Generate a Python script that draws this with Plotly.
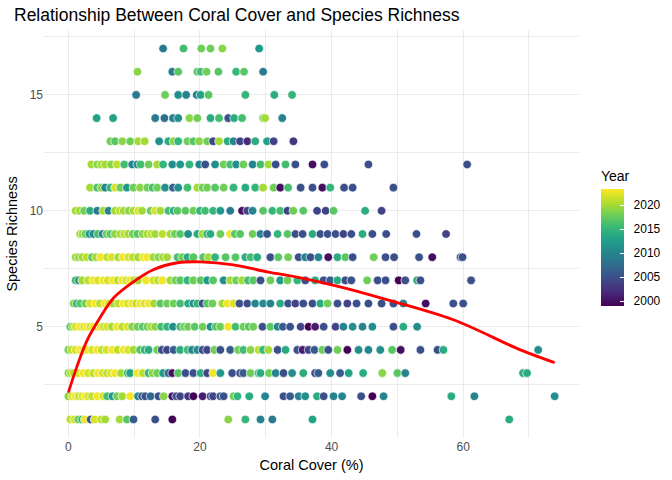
import plotly.graph_objects as go

# coral cover (%) and survey year for each richness level
y1_cover = [0.3, 0.9, 1.5, 2.1, 2.5, 3.4, 4.0, 5.0, 5.6, 7.8, 8.9, 9.9, 13.2, 15.8, 24.3, 26.9, 29.2, 31.0, 37.1, 67.0]
y1_year = [2021, 2022, 2018, 2015, 2023, 2005, 2022, 2021, 2020, 2020, 2017, 2006, 2005, 1999, 2019, 2015, 2010, 2009, 2013, 2014]

y2_cover = [0.0, 0.6, 1.1, 1.6, 2.1, 2.6, 3.0, 3.6, 4.4, 5.3, 5.9, 6.7, 7.4, 8.2, 9.4, 10.6, 11.2, 11.7, 12.5, 13.7,
            14.5, 15.8, 16.4, 17.0, 18.2, 19.0, 20.4, 21.6, 22.0, 23.1, 23.6, 25.1, 25.7, 27.5, 29.9, 32.7, 33.7, 35.0,
            36.0, 37.8, 38.8, 40.3, 41.6, 44.5, 46.2, 47.9, 58.2, 61.7, 73.9]
y2_year = [2019, 2022, 2023, 2021, 2022, 2023, 2022, 2021, 2023, 2022, 2016, 2012, 2018, 2020, 2023, 2010, 2006, 2005,
           2007, 2005, 2019, 2000, 2005, 2004, 2003, 1999, 2001, 2005, 2004, 2006, 2005, 2018, 2015, 2014, 2010, 2005,
           2006, 2010, 2011, 2014, 2005, 2010, 2010, 2005, 1999, 2010, 2014, 2010, 2011]

y3_cover = [0.0, 0.4, 0.8, 1.5, 2.3, 3.0, 3.8, 4.5, 5.2, 5.9, 6.5, 7.1, 8.0, 9.0, 9.4, 10.5, 11.3, 12.2, 12.8, 13.5,
            14.4, 15.2, 15.8, 16.7, 17.8, 19.0, 20.1, 21.1, 22.0, 23.1, 24.9, 26.1, 26.6, 27.7, 28.9, 29.2, 30.5, 31.5,
            32.7, 34.0, 35.7, 37.5, 38.0, 39.8, 41.3, 42.6, 44.8, 47.7, 50.0, 51.2, 69.1, 69.7]
y3_year = [2019, 2020, 2021, 2022, 2023, 2022, 2021, 2023, 2022, 2021, 2022, 2023, 2020, 2016, 2013, 2023, 2021, 2015,
           2019, 2018, 2012, 2008, 2000, 2017, 2005, 2005, 2014, 2004, 2023, 2012, 2005, 2005, 2006, 2018, 2015, 2014,
           2018, 2010, 2005, 2011, 2014, 2005, 2006, 2011, 2006, 2013, 2014, 2019, 2017, 2010, 2014, 2014]

y4_cover = [0.0, 0.5, 1.1, 1.8, 2.4, 2.9, 3.6, 4.4, 5.1, 5.8, 6.7, 7.5, 8.4, 9.1, 9.9, 10.9, 11.6, 12.2, 13.5, 14.2,
            15.0, 16.0, 17.0, 18.1, 18.8, 19.6, 20.4, 21.1, 22.2, 23.1, 24.6, 25.8, 26.6, 27.7, 28.9, 29.6, 30.4, 31.8,
            33.0, 34.8, 35.6, 36.5, 37.4, 38.6, 39.5, 40.9, 42.4, 44.1, 45.6, 47.4, 49.2, 50.5, 53.5, 56.1, 57.0, 71.4]
y4_year = [2018, 2021, 2022, 2023, 2022, 2023, 2022, 2023, 2021, 2022, 2023, 2021, 2023, 2022, 2020, 2017, 2015, 2014,
           2018, 2005, 2004, 2006, 2014, 2016, 2010, 2011, 2005, 2004, 2018, 2005, 2006, 2018, 2016, 2019, 2021, 2015,
           2020, 2005, 2014, 2005, 2001, 2004, 2006, 2018, 2005, 2018, 1999, 2011, 2010, 2011, 2017, 2000, 2005, 2005,
           2014, 2011]

y5_cover = [0.3, 0.7, 1.1, 1.8, 2.4, 2.9, 3.4, 3.8, 4.4, 4.9, 5.4, 5.9, 6.6, 7.4, 8.2, 9.0, 9.7, 10.5, 11.3, 12.0,
            12.6, 13.2, 14.1, 15.0, 15.9, 17.0, 17.6, 18.2, 19.2, 20.4, 21.6, 22.4, 23.1, 24.3, 25.4, 26.6, 27.4, 28.1,
            29.5, 30.7, 31.8, 32.6, 33.7, 35.3, 36.5, 37.5, 38.8, 40.6, 41.8, 43.2, 44.7, 46.2, 49.4, 50.9, 53.0]
y5_year = [2016, 2020, 2022, 2023, 2022, 2023, 2021, 2023, 2022, 2023, 2021, 2022, 2020, 2023, 2021, 2022, 2019, 2018,
           2017, 2018, 2020, 2019, 2016, 2015, 2011, 2016, 2018, 2018, 2017, 2018, 2011, 2017, 2018, 2023, 2016, 2018,
           2017, 2018, 2005, 2017, 2010, 2006, 2005, 2004, 1999, 2001, 2005, 2004, 2010, 2011, 2010, 2011, 2005, 2014,
           2011]

y6_cover = [0.8, 1.3, 1.8, 2.6, 3.3, 4.1, 4.8, 5.6, 6.2, 6.8, 7.6, 8.4, 9.0, 9.7, 10.3, 10.9, 11.6, 12.2, 13.0, 14.0,
            15.0, 16.0, 17.0, 18.2, 19.0, 19.6, 20.4, 21.1, 21.9, 23.4, 24.2, 25.1, 26.0, 27.2, 28.4, 29.6, 30.7, 32.2,
            33.4, 34.5, 35.7, 37.1, 38.3, 39.4, 40.9, 42.4, 43.8, 45.6, 47.6, 49.4, 50.9, 54.3, 58.5, 60.0]
y6_year = [2019, 2014, 2017, 2018, 2022, 2023, 2021, 2023, 2022, 2020, 2021, 2023, 2022, 2023, 2021, 2023, 2022, 2023,
           2020, 2017, 2018, 2018, 2016, 2014, 2011, 2015, 2005, 2017, 2018, 2020, 2023, 2022, 2005, 2005, 2010, 2011,
           2010, 2014, 2005, 2004, 2005, 2005, 2014, 2018, 2005, 2004, 2005, 2005, 2005, 2005, 2010, 2000, 2005, 2005]

y7_cover = [1.1, 1.6, 2.1, 3.0, 3.8, 4.5, 5.3, 6.0, 6.8, 7.5, 8.2, 8.8, 9.4, 10.0, 10.6, 11.8, 12.9, 13.6, 14.3, 15.5,
            16.3, 17.0, 18.1, 19.0, 20.1, 21.1, 22.0, 23.6, 24.6, 25.5, 26.4, 27.3, 28.1, 29.2, 30.7, 32.2, 33.3, 34.8,
            36.0, 37.5, 38.8, 39.8, 40.9, 42.1, 43.0, 45.4, 47.0, 48.2, 50.2, 51.2, 53.0, 53.5, 61.2]
y7_year = [2016, 2011, 2020, 2021, 2023, 2022, 2023, 2022, 2023, 2021, 2023, 2022, 2023, 2021, 2020, 2023, 2022, 2021,
           2023, 2020, 2018, 2017, 2015, 2018, 2017, 2012, 2017, 2011, 2020, 2018, 2020, 2016, 2017, 2005, 2018, 2012,
           2018, 2015, 2005, 2014, 2005, 2006, 2014, 2005, 2005, 2018, 2005, 2005, 1999, 2005, 2014, 2005, 2005]

y8_cover = [1.1, 1.6, 2.1, 2.8, 3.6, 4.2, 4.9, 5.9, 6.6, 7.6, 8.3, 9.1, 9.8, 10.6, 11.4, 12.0, 12.9, 13.7, 14.4, 15.0,
            16.6, 17.3, 18.1, 19.0, 20.5, 21.3, 22.3, 23.9, 25.4, 26.9, 27.7, 28.7, 30.7, 31.9, 33.4, 35.0, 36.0, 36.8,
            38.0, 39.5, 40.9, 42.1, 43.2, 46.4, 48.2, 49.5, 53.3, 55.3, 59.6, 59.9]
y8_year = [2020, 2019, 2020, 2021, 2017, 2020, 2023, 2021, 2022, 2020, 2023, 2022, 2021, 2020, 2023, 2023, 2020, 2019,
           2020, 2020, 2016, 2018, 2014, 2017, 2017, 2020, 2015, 2017, 2017, 2014, 2016, 2014, 2005, 2017, 2018, 2005,
           2010, 2005, 2010, 2000, 2014, 2017, 2005, 2018, 2005, 2005, 2005, 2000, 2005, 2005]

y9_cover = [1.8, 2.2, 2.6, 3.2, 3.8, 4.5, 5.2, 5.8, 6.4, 7.1, 7.9, 8.5, 9.1, 9.8, 10.5, 11.3, 12.0, 12.6, 13.2, 14.3,
            15.5, 16.2, 17.0, 18.2, 19.6, 20.4, 21.1, 21.6, 23.1, 24.6, 25.3, 26.1, 28.0, 29.2, 30.2, 31.8, 33.3, 34.5,
            35.6, 37.1, 38.3, 39.4, 40.6, 41.8, 43.0, 44.7, 46.2, 48.3, 52.9, 57.4]
y9_year = [2020, 2019, 2018, 2012, 2011, 2016, 2010, 2018, 2017, 2019, 2020, 2021, 2020, 2018, 2017, 2019, 2020, 2021,
           2020, 2021, 2020, 2018, 2017, 2011, 2014, 2020, 2015, 2014, 2018, 2023, 2017, 2017, 2018, 2010, 2005, 2015,
           2017, 2005, 2005, 2014, 2005, 2005, 2005, 2004, 2005, 2014, 2005, 2005, 2005, 2004]

y10_cover = [1.1, 1.7, 2.4, 3.3, 4.4, 5.3, 6.1, 7.1, 7.8, 8.4, 9.2, 9.9, 10.6, 11.2, 12.5, 13.2, 14.0, 15.2, 16.0, 16.6,
             17.8, 19.0, 20.0, 20.8, 22.0, 23.1, 24.6, 26.4, 27.2, 28.0, 29.6, 31.0, 32.2, 33.3, 34.2, 35.7, 37.8, 39.1,
             40.3, 45.1, 47.6]
y10_year = [2020, 2020, 2018, 2014, 2009, 2020, 2010, 2020, 2021, 2020, 2019, 2020, 2022, 2020, 2018, 2022, 2020, 2016,
            2014, 2017, 2017, 2018, 2015, 2016, 2015, 2012, 2009, 2000, 2004, 2010, 2017, 2015, 2016, 2004, 2018, 2017,
            2004, 2004, 2017, 2014, 2004]

y11_cover = [3.3, 4.4, 5.0, 5.6, 6.4, 7.1, 7.9, 8.9, 9.9, 10.9, 12.0, 12.8, 13.5, 14.7, 15.9, 16.7, 18.1, 19.6, 20.4,
             21.1, 22.3, 23.6, 25.1, 26.9, 28.4, 29.6, 31.2, 32.2, 33.4, 35.3, 37.1, 38.6, 39.8, 41.9, 43.2, 49.4]
y11_year = [2020, 2016, 2019, 2010, 2015, 2022, 2018, 2012, 2018, 2019, 2018, 2016, 2018, 2011, 2007, 2011, 2016, 2020,
            2018, 2018, 2017, 2018, 2015, 2014, 2015, 2020, 2018, 2000, 2016, 2005, 2005, 2000, 2015, 2005, 2005, 2005]

y12_cover = [3.5, 4.4, 5.0, 5.6, 6.5, 7.4, 8.5, 9.7, 10.5, 11.0, 12.2, 13.5, 14.4, 15.8, 17.0, 18.4, 19.9, 20.8, 22.3,
             23.6, 24.6, 25.5, 26.6, 28.0, 29.2, 30.4, 31.5, 33.0, 34.5, 37.1, 38.9, 45.6, 60.6]
y12_year = [2020, 2019, 2020, 2020, 2019, 2021, 2016, 2010, 2011, 2016, 2018, 2020, 2015, 2011, 2012, 2015, 2010, 2005,
            2011, 2018, 2016, 2011, 2018, 2010, 2016, 2020, 2005, 2016, 2005, 2000, 2005, 2005, 2005]

y13_cover = [6.4, 7.1, 8.2, 9.4, 10.6, 11.6, 13.8, 15.2, 16.0, 16.7, 18.1, 19.0, 19.9, 21.1, 22.0, 22.9, 24.2, 25.1,
             26.1, 27.2, 28.4, 30.2, 31.2, 34.2]
y13_year = [2018, 2017, 2019, 2018, 2020, 2020, 2011, 2014, 2019, 2015, 2018, 2017, 2019, 2018, 2004, 2020, 2014, 2010,
            2004, 2002, 2014, 2013, 2004, 2003]

y14_cover = [4.3, 6.8, 13.2, 14.6, 15.9, 16.7, 18.4, 19.6, 21.6, 22.9, 24.3, 25.2, 26.4, 29.6, 29.9, 32.5]
y14_year = [2013, 2013, 2009, 2008, 2010, 2011, 2019, 2018, 2014, 2016, 2005, 2014, 2016, 2018, 2020, 2010]

y15_cover = [10.3, 14.7, 16.7, 17.9, 19.5, 20.1, 21.3, 26.9, 31.3, 34.0]
y15_year = [2009, 2018, 2011, 2010, 2010, 2013, 2017, 2015, 2014, 2015]

y16_cover = [10.5, 15.8, 16.7, 19.6, 20.1, 21.0, 22.8, 25.5, 26.7, 29.6]
y16_year = [2019, 2009, 2017, 2017, 2016, 2018, 2017, 2015, 2017, 2009]

y17_cover = [14.4, 17.5, 20.2, 21.6, 23.4, 29.0]
y17_year = [2009, 2016, 2018, 2018, 2019, 2012]

# smoothed trend (loess)
trend_cover = [0, 1.3, 2.9, 4.9, 6.9, 9.9, 12.9, 16.6, 20.1, 25.1, 30.2, 35.3, 41.3, 48.5, 58.5, 68.7, 73.9]
trend_richness = [2.16, 3.28, 4.44, 5.43, 6.25, 6.94, 7.46, 7.76, 7.80, 7.67, 7.37, 7.11, 6.72, 6.16, 5.30, 4.0, 3.45]

year_ticks = [2000, 2005, 2010, 2015, 2020]

rows = [
    (1, y1_cover, y1_year), (2, y2_cover, y2_year), (3, y3_cover, y3_year), (4, y4_cover, y4_year),
    (5, y5_cover, y5_year), (6, y6_cover, y6_year), (7, y7_cover, y7_year), (8, y8_cover, y8_year),
    (9, y9_cover, y9_year), (10, y10_cover, y10_year), (11, y11_cover, y11_year), (12, y12_cover, y12_year),
    (13, y13_cover, y13_year), (14, y14_cover, y14_year), (15, y15_cover, y15_year), (16, y16_cover, y16_year),
    (17, y17_cover, y17_year),
]

xs, ys, cs = [], [], []
for richness, cover, year in rows:
    xs += cover
    ys += [richness] * len(cover)
    cs += year

fig = go.Figure()
fig.add_trace(go.Scatter(
    x=xs, y=ys, mode="markers",
    marker=dict(
        size=8.6, color=cs, colorscale="Viridis", cmin=1999, cmax=2023.4,
        line=dict(color="white", width=0.7),
        colorbar=dict(
            title=dict(text="Year", side="top", font=dict(size=14, color="black")),
            x=1.041, xanchor="left", xpad=0, y=0.493, yanchor="middle", ypad=0,
            lenmode="pixels", len=138, thickness=23, outlinewidth=0,
            tickvals=year_ticks, ticktext=["\u00a0\u00a0" + str(t) for t in year_ticks],
            ticks="inside", ticklen=4, tickcolor="white",
            tickfont=dict(size=12, color="black"),
        ),
    ),
    showlegend=False,
))
fig.add_trace(go.Scatter(
    x=trend_cover, y=trend_richness, mode="lines", line_shape="spline",
    line=dict(color="red", width=2.8), showlegend=False,
))

grid = "#ebebeb"
fig.update_layout(
    width=672, height=480,
    margin=dict(l=44, r=93, t=30, b=42, autoexpand=False),
    paper_bgcolor="white", plot_bgcolor="white",
    font=dict(family="Liberation Sans, Arial, sans-serif", color="#4d4d4d"),
    title=dict(text="Relationship Between Coral Cover and Species Richness",
               x=14 / 672, xanchor="left", xref="container",
               y=1 - 15 / 480, yanchor="middle", yref="container",
               font=dict(size=17.5, color="black")),
)
fig.update_xaxes(
    range=[-3.7, 77.6], tick0=0, dtick=20, showline=False, zeroline=False, automargin=False,
    gridcolor=grid, gridwidth=1.1, ticks="", tickfont=dict(size=12),
    minor=dict(dtick=10, showgrid=True, gridcolor=grid, gridwidth=0.5),
    title=dict(text="Coral Cover (%)", font=dict(size=14.5, color="black"), standoff=6),
)
fig.update_yaxes(
    range=[0.2, 17.8], tick0=0, dtick=5, showline=False, zeroline=False, automargin=False,
    gridcolor=grid, gridwidth=1.1, ticks="", tickfont=dict(size=12),
    minor=dict(dtick=2.5, showgrid=True, gridcolor=grid, gridwidth=0.5),
    title=dict(text="Species Richness", font=dict(size=14.5, color="black"), standoff=8),
)

# drop the browser's default body margin so the figure sits at the page corner
fig.write_html("out.html", config={"displayModeBar": False},
               post_script="document.body.style.margin='0';")
